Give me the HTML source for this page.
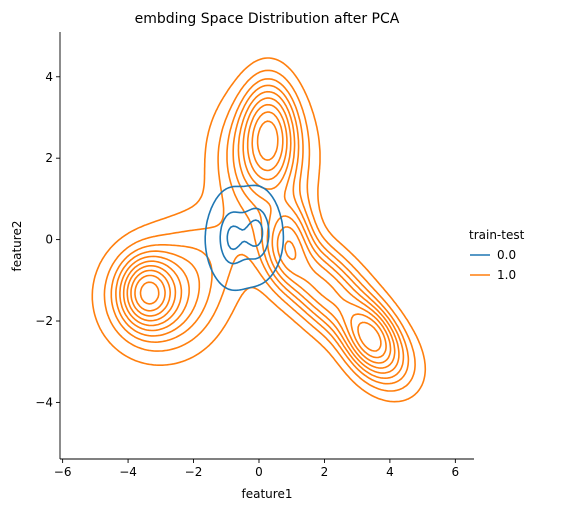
<!DOCTYPE html>
<html><head><meta charset="utf-8"><style>
body{margin:0;background:#fff;font-family:"Liberation Sans","DejaVu Sans",sans-serif;}
svg text{font-family:"DejaVu Sans","Liberation Sans",sans-serif;fill:#000;}
</style></head><body>
<svg id="chart" width="573" height="512" viewBox="0 0 573 512" xmlns="http://www.w3.org/2000/svg">
<text x="267" y="23" font-size="14" text-anchor="middle">embding Space Distribution after PCA</text>
<g id="plot"></g>
<g id="axes"></g>
<text x="267" y="498" font-size="12" text-anchor="middle">feature1</text>
<text transform="translate(21,246) rotate(-90)" font-size="12" text-anchor="middle">feature2</text>
<g>
<text x="469" y="239" font-size="12">train-test</text>
<line x1="470" y1="255" x2="490" y2="255" stroke="#1f77b4" stroke-width="1.5"/>
<text x="497" y="259" font-size="12">0.0</text>
<line x1="470" y1="275" x2="490" y2="275" stroke="#ff7f0e" stroke-width="1.5"/>
<text x="497" y="279" font-size="12">1.0</text>
</g>
</svg>
<script>
// components: mean x, mean y, sd x, sd y, correlation, weight
const orangeMx=[0.3,0.1,-3.4,-3.0,0.9,2.0,3.4,-1.5,3.8];
const orangeMy=[2.6,2.0,-1.3,-1.4,0.0,-1.2,-2.4,-0.3,-2.9];
const orangeSx=[0.5,0.9,0.5,1.05,0.45,1.05,0.5,1.0,0.7];
const orangeSy=[0.8,1.0,0.5,0.85,0.65,0.85,0.5,0.8,0.6];
const orangeRho=[0,0,0,0,0,-0.65,-0.3,0,-0.3];
const orangeW=[0.8,1.1,0.55,1.2,0.4,1.3,0.45,0.3,0.35];
const orangeLevels=[0.055,0.12,0.19,0.26,0.34,0.43,0.53,0.64,0.76,0.9];
const blueMx=[-0.85,-0.05,-0.45];
const blueMy=[0.05,0.2,0.0];
const blueSx=[0.3,0.3,0.75];
const blueSy=[0.55,0.5,0.75];
const blueRho=[0,0,0];
const blueW=[0.5,0.5,1.0];
const blueLevels=[0.12,0.55,0.85];
const xTicks=[-6,-4,-2,0,2,4,6];
const yTicks=[-4,-2,0,2,4];

const X0=60,X1=474,Y0=32,Y1=459;
const xmin=-6.08,xmax=6.57,ymin=-5.39,ymax=5.1;
const sx=v=>X0+(v-xmin)/(xmax-xmin)*(X1-X0);
const sy=v=>Y1-(v-ymin)/(ymax-ymin)*(Y1-Y0);
const NS="http://www.w3.org/2000/svg";
const plot=document.getElementById('plot'),axes=document.getElementById('axes');

function dens(mx,my,ssx,ssy,rho,w,x,y){let s=0;for(let i=0;i<mx.length;i++){const dx=(x-mx[i])/ssx[i],dy=(y-my[i])/ssy[i],r=rho[i],q=(dx*dx-2*r*dx*dy+dy*dy)/(1-r*r);s+=w[i]*Math.exp(-0.5*q)/(ssx[i]*ssy[i]*Math.sqrt(1-r*r));}return s;}

function contours(mx,my,ssx,ssy,rho,w,levels,color,name){
 const N=180,gx0=-6,gx1=6.5,gy0=-5.3,gy1=5;
 const G=[];let mxv=0;
 for(let j=0;j<=N;j++){G.push([]);for(let i=0;i<=N;i++){const v=dens(mx,my,ssx,ssy,rho,w,gx0+(gx1-gx0)*i/N,gy0+(gy1-gy0)*j/N);G[j].push(v);if(v>mxv)mxv=v;}}
 const px=i=>sx(gx0+(gx1-gx0)*i/N),py=j=>sy(gy0+(gy1-gy0)*j/N);
 levels.forEach((lf,li)=>{
  const L=lf*mxv;let d='';
  for(let j=0;j<N;j++)for(let i=0;i<N;i++){
   const a=G[j][i],b=G[j][i+1],c=G[j+1][i+1],e=G[j+1][i];
   const pts=[];
   const edge=(v1,v2,x1,y1,x2,y2)=>{if((v1<L)!==(v2<L)){const t=(L-v1)/(v2-v1);pts.push([x1+(x2-x1)*t,y1+(y2-y1)*t]);}};
   edge(a,b,px(i),py(j),px(i+1),py(j));
   edge(b,c,px(i+1),py(j),px(i+1),py(j+1));
   edge(c,e,px(i+1),py(j+1),px(i),py(j+1));
   edge(e,a,px(i),py(j+1),px(i),py(j));
   for(let k=0;k+1<pts.length;k+=2)d+='M'+pts[k][0].toFixed(1)+' '+pts[k][1].toFixed(1)+'L'+pts[k+1][0].toFixed(1)+' '+pts[k+1][1].toFixed(1);
  }
  const p=document.createElementNS(NS,'path');
  p.setAttribute('d',d);p.setAttribute('fill','none');p.setAttribute('stroke',color);p.setAttribute('stroke-width','1.6');p.setAttribute('stroke-linecap','round');
  
  
  plot.appendChild(p);
 });
}
contours(orangeMx,orangeMy,orangeSx,orangeSy,orangeRho,orangeW,orangeLevels,'#ff7f0e','train-test-1');
contours(blueMx,blueMy,blueSx,blueSy,blueRho,blueW,blueLevels,'#1f77b4','train-test-0');

function ln(x1,y1,x2,y2,name){const l=document.createElementNS(NS,'line');l.setAttribute('x1',x1);l.setAttribute('y1',y1);l.setAttribute('x2',x2);l.setAttribute('y2',y2);l.setAttribute('stroke','#000');l.setAttribute('stroke-width','0.9');
 
 
 axes.appendChild(l);}
function tx(x,y,s,anchor,name){const t=document.createElementNS(NS,'text');t.setAttribute('x',x);t.setAttribute('y',y);t.setAttribute('font-size','12');t.setAttribute('text-anchor',anchor);t.textContent=s;
 
 
 axes.appendChild(t);}
ln(X0,Y0,X0,Y1,'y-axis-spine');ln(X0,Y1,X1,Y1,'x-axis-spine');
xTicks.forEach(v=>{const x=sx(v);ln(x,Y1,x,Y1+4,'x-tick');tx(x,Y1+17,v<0?'\u2212'+(-v):String(v),'middle','x-tick-label');});
yTicks.forEach(v=>{const y=sy(v);ln(X0-4,y,X0,y,'y-tick');tx(X0-7,y+4,v<0?'\u2212'+(-v):String(v),'end','y-tick-label');});
</script>
</body></html>
